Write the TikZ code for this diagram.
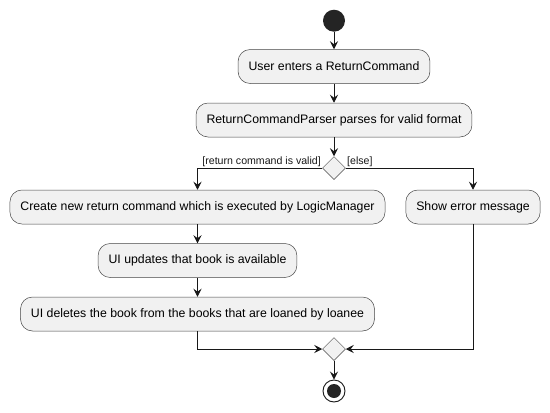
\documentclass[tikz,border=0pt]{standalone}
\usepackage{fontspec}
\setmainfont{Liberation Sans}
\usetikzlibrary{arrows.meta,shapes.geometric}
\definecolor{actfill}{HTML}{F1F1F1}
\definecolor{actline}{HTML}{181818}
\tikzset{
  action/.style={draw=actline!80, line width=0.5pt, fill=actfill, rounded corners=12pt,
    minimum height=34pt, inner xsep=10.5pt, font=\fontsize{12.3}{14}\selectfont},
  branch/.style={diamond, draw=actline!80, line width=0.5pt, fill=actfill,
    minimum width=23pt, minimum height=23pt, inner sep=0pt},
  guard/.style={font=\fontsize{10.6}{12}\selectfont, inner sep=1pt}
}
\begin{document}
\begin{tikzpicture}[x=1pt, y=-1pt, >={Stealth[length=8pt,width=8pt,inset=3pt]}, line width=0.9pt]
\useasboundingbox (0,0) rectangle (550,413);
\node[circle, fill=actline!95, minimum size=22pt, inner sep=0pt] (start) at (334,20.7) {};
\node[action] (enter) at (334,66.5) {User enters a ReturnCommand};
\node[action] (parse) at (334,120) {ReturnCommandParser parses for valid format};
\node[branch] (check) at (334,168) {};
\node[action] (create) at (197.5,207) {Create new return command which is executed by LogicManager};
\node[action] (error) at (473,207) {Show error message};
\node[action] (update) at (197.5,260.5) {UI updates that book is available};
\node[action] (delete) at (197.5,314) {UI deletes the book from the books that are loaned by loanee};
\node[branch] (merge) at (334,349) {};
\node[circle, draw=actline, line width=0.9pt, fill=white, minimum size=22pt, inner sep=0pt] (stop) at (334,391) {};
\node[circle, fill=actline!95, minimum size=14pt, inner sep=0pt] at (stop) {};

\draw[->, actline] (start) -- (enter);
\draw[->, actline] (enter) -- (parse);
\draw[->, actline] (parse) -- (check);
\draw[->, actline] (check.west) -| node[pos=0, guard, anchor=south east] {[return command is valid]} (create.north);
\draw[->, actline] (check.east) -| node[pos=0, guard, anchor=south west] {[else]} (error.north);
\draw[->, actline] (create) -- (update);
\draw[->, actline] (update) -- (delete);
\draw[->, actline] (delete.south) |- (merge.west);
\draw[->, actline] (error.south) |- (merge.east);
\draw[->, actline] (merge) -- (stop);
\end{tikzpicture}
\end{document}
